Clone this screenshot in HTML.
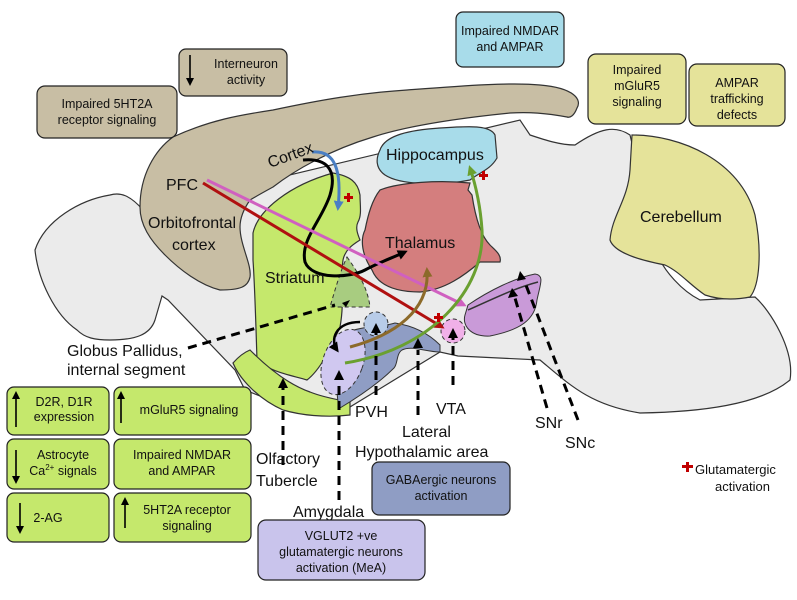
<!DOCTYPE html>
<html><head><meta charset="utf-8"><style>
body{margin:0;background:#fff;width:797px;height:600px;overflow:hidden}
svg{display:block}
text{font-family:"Liberation Sans",Arial,sans-serif;fill:#111}
</style></head><body>
<svg width="797" height="600" viewBox="0 0 797 600" xmlns="http://www.w3.org/2000/svg">
<defs>
<marker id="ak" markerWidth="10" markerHeight="10" refX="7" refY="5" orient="auto" markerUnits="userSpaceOnUse"><path d="M0,0 L10,5 L0,10 Z" fill="#000"/></marker>
<marker id="ab" markerWidth="10" markerHeight="10" refX="7" refY="5" orient="auto" markerUnits="userSpaceOnUse"><path d="M0,0 L10,5 L0,10 Z" fill="#4a7fc4"/></marker>
<marker id="ap" markerWidth="10" markerHeight="10" refX="7" refY="5" orient="auto" markerUnits="userSpaceOnUse"><path d="M0,0 L10,5 L0,10 Z" fill="#d060c0"/></marker>
<marker id="ar" markerWidth="10" markerHeight="10" refX="7" refY="5" orient="auto" markerUnits="userSpaceOnUse"><path d="M0,0 L10,5 L0,10 Z" fill="#b01010"/></marker>
<marker id="ag" markerWidth="10" markerHeight="10" refX="7" refY="5" orient="auto" markerUnits="userSpaceOnUse"><path d="M0,0 L10,5 L0,10 Z" fill="#6aa030"/></marker>
<marker id="ao" markerWidth="10" markerHeight="10" refX="7" refY="5" orient="auto" markerUnits="userSpaceOnUse"><path d="M0,0 L10,5 L0,10 Z" fill="#8c6a2a"/></marker>
</defs>
<!-- brain outline -->
<path d="M143,210 C130,195 120,192 110,195 C80,200 45,220 35,250 C38,280 55,315 77,330 C85,338 95,340 110,340 C135,340 150,335 155,320 L162,296 L168,300 L235,370 L245,390 L300,412 L345,410 L440,352 L458,356 L540,360 C570,385 590,405 640,413 C700,412 760,405 790,380 C795,350 770,310 755,297 L700,300 C680,290 665,270 660,260 L630,135 C615,125 600,128 575,145 C560,145 545,140 530,135 L520,120 Z" fill="#ebebeb" stroke="#333" stroke-width="1.2"/>
<!-- cortex -->
<path d="M140,207 C140,175 155,150 173,137 C210,120 240,115 273,110 C320,100 360,93 407,90 C460,86 510,82 540,85 C575,88 582,100 577,108 C574,116 570,118 567,117 C545,113 530,112 510,113 C460,118 410,125 373,137 C330,150 295,170 273,187 C262,193 255,197 250,200 C243,210 240,218 240,227 C240,245 252,265 250,277 C248,287 240,290 220,290 C200,285 180,270 165,255 C150,240 140,225 140,207 Z" fill="#c8bea4" stroke="#333" stroke-width="1.2"/>
<!-- cerebellum -->
<path d="M632,135 C680,135 740,160 755,215 C762,250 760,285 750,297 C735,300 720,300 705,295 C690,285 680,272 665,265 C650,262 615,255 610,240 C612,215 628,200 630,170 Z" fill="#e5e39a" stroke="#333" stroke-width="1.2"/>
<!-- hippocampus -->
<path d="M380,150 C385,135 410,130 440,128 C470,126 490,125 495,135 L497,158 C490,170 480,172 470,180 C440,186 400,185 385,175 C375,168 376,158 380,150 Z" fill="#a8dcea" stroke="#333" stroke-width="1.2"/>
<!-- thalamus -->
<path d="M380,190 C400,182 440,180 470,183 L468,190 L472,195 C475,215 480,235 490,245 C495,250 502,255 500,262 L480,262 C465,275 445,290 420,292 C395,292 378,285 372,270 C362,255 360,240 365,230 C368,215 372,200 380,190 Z" fill="#d47e7e" stroke="#333" stroke-width="1.2"/>
<!-- striatum -->
<path d="M253,233 C258,210 290,185 333,173 C350,176 358,182 360,195 C360,205 362,215 358,222 C355,228 358,235 360,240 C352,245 345,250 343,260 C340,280 345,300 340,327 C330,350 320,370 307,380 C290,375 270,372 257,360 C256,330 255,290 253,260 Z" fill="#c5e86c" stroke="#333" stroke-width="1.2"/>
<path d="M233,363 C240,355 245,352 250,350 C270,370 290,385 310,392 C325,398 340,400 350,402 L350,415 C325,418 300,415 283,410 C260,400 240,380 233,363 Z" fill="#c5e86c" stroke="#333" stroke-width="1.2"/>
<!-- globus pallidus -->
<path d="M347,257 C360,275 368,290 370,307 L330,307 C335,290 340,272 347,257 Z" fill="#a8cc80" stroke="#333" stroke-width="1" stroke-dasharray="4,3"/>
<!-- hypothalamus -->
<path d="M345,333 C365,325 380,328 395,323 C415,326 430,335 440,345 L440,352 C425,352 412,345 402,350 C396,354 398,364 394,368 C380,382 360,396 340,408 C334,395 338,360 345,333 Z" fill="#8f9dc4" stroke="#333" stroke-width="1"/>
<ellipse cx="343" cy="362" rx="20" ry="34" transform="rotate(20 343 362)" fill="#d0c8f0" stroke="#333" stroke-width="1" stroke-dasharray="4,3"/>
<circle cx="376" cy="324" r="12" fill="#b8cce8" stroke="#333" stroke-width="1" stroke-dasharray="4,3"/>
<circle cx="453" cy="331" r="12" fill="#f0b0e8" stroke="#333" stroke-width="1" stroke-dasharray="4,3"/>
<!-- SN -->
<path d="M468,305 C490,290 515,278 535,274 C545,275 540,285 537,300 C535,320 520,330 490,336 C470,337 462,325 465,315 Z" fill="#c99ad8" stroke="#333" stroke-width="1"/>
<path d="M468,310 C495,298 515,288 538,282" fill="none" stroke="#333" stroke-width="1.5"/>
<!-- connectors -->
<path d="M312,152 C335,150 342,170 338,208" fill="none" stroke="#4a7fc4" stroke-width="3" marker-end="url(#ab)"/>
<path d="M303,160 C325,158 338,168 330,195 C322,220 300,240 305,262 C312,280 350,278 365,270 C380,262 392,258 405,252" fill="none" stroke="#000" stroke-width="3" marker-end="url(#ak)"/>
<line x1="207" y1="180" x2="464" y2="305" stroke="#d060c0" stroke-width="3" marker-end="url(#ap)"/>
<line x1="203" y1="183" x2="442" y2="327" stroke="#b01010" stroke-width="3" marker-end="url(#ar)"/>
<path d="M350,347 C395,335 430,310 427,270" fill="none" stroke="#8c6a2a" stroke-width="3" marker-end="url(#ao)"/>
<path d="M345,363 C430,350 485,290 482,230 C480,200 474,180 470,168" fill="none" stroke="#6aa030" stroke-width="3" marker-end="url(#ag)"/>
<path d="M360,322 C335,322 330,340 337,350" fill="none" stroke="#000" stroke-width="2.5" marker-end="url(#ak)"/>
<!-- red crosses -->
<g fill="#c00000">
<rect x="347" y="193" width="3" height="9"/><rect x="344" y="196" width="9" height="3"/>
<rect x="482" y="171" width="3" height="9"/><rect x="479" y="174" width="9" height="3"/>
<rect x="437" y="313" width="3" height="9"/><rect x="434" y="316" width="9" height="3"/>
<rect x="686" y="462" width="3" height="10"/><rect x="682" y="465" width="11" height="3"/>
</g>
<!-- dashed pointers -->
<g stroke="#000" stroke-width="3" stroke-dasharray="9,6" fill="none">
<line x1="188" y1="348" x2="335" y2="305"/>
<line x1="283" y1="465" x2="283" y2="385"/>
<line x1="339" y1="500" x2="339" y2="380"/>
<line x1="376" y1="395" x2="376" y2="330"/>
<line x1="418" y1="415" x2="418" y2="350"/>
<line x1="453" y1="385" x2="453" y2="338"/>
<line x1="547" y1="408" x2="515" y2="298"/>
<line x1="578" y1="420" x2="524" y2="280"/>
</g>
<g fill="#000">
<path d="M278,388 L283,378 L288,388 Z"/><path d="M334,380 L339,370 L344,380 Z"/>
<path d="M371,333 L376,323 L381,333 Z"/><path d="M413,348 L418,338 L423,348 Z"/>
<path d="M448,338 L453,328 L458,338 Z"/><path d="M508,298 L512,288 L518,296 Z"/>
<path d="M517,281 L520,271 L526,279 Z"/><path d="M342,303 L350,300 L346,307 Z"/>
</g>
<!-- labels -->
<g font-size="16">
<text x="166" y="190">PFC</text>
<text x="270" y="168" transform="rotate(-20 270 168)">Cortex</text>
<text x="148" y="228">Orbitofrontal</text><text x="172" y="250">cortex</text>
<text x="265" y="283">Striatum</text>
<text x="385" y="248">Thalamus</text>
<text x="386" y="160">Hippocampus</text>
<text x="640" y="222">Cerebellum</text>
<text x="67" y="356">Globus Pallidus,</text><text x="67" y="375">internal segment</text>
<text x="355" y="417">PVH</text>
<text x="436" y="414">VTA</text>
<text x="402" y="437">Lateral</text><text x="355" y="457">Hypothalamic area</text>
<text x="535" y="428">SNr</text><text x="565" y="448">SNc</text>
<text x="256" y="464">Olfactory</text><text x="256" y="486">Tubercle</text>
<text x="293" y="517">Amygdala</text>
</g>
<text x="695" y="474" font-size="13">Glutamatergic</text><text x="715" y="491" font-size="13">activation</text>
<!-- boxes -->
<g stroke="#222" stroke-width="1.2">
<rect x="179" y="49" width="108" height="47" rx="7" fill="#c8bea4"/>
<rect x="37" y="86" width="140" height="52" rx="8" fill="#c8bea4"/>
<rect x="456" y="12" width="108" height="55" rx="7" fill="#a8dcea"/>
<rect x="588" y="54" width="98" height="70" rx="8" fill="#e5e39a"/>
<rect x="689" y="64" width="96" height="62" rx="8" fill="#e5e39a"/>
<rect x="7" y="387" width="102" height="48" rx="7" fill="#c5e86c"/>
<rect x="114" y="387" width="137" height="48" rx="7" fill="#c5e86c"/>
<rect x="7" y="439" width="102" height="50" rx="7" fill="#c5e86c"/>
<rect x="114" y="439" width="137" height="50" rx="7" fill="#c5e86c"/>
<rect x="7" y="493" width="102" height="49" rx="7" fill="#c5e86c"/>
<rect x="114" y="493" width="137" height="49" rx="7" fill="#c5e86c"/>
<rect x="372" y="462" width="138" height="53" rx="7" fill="#8f9dc4"/>
<rect x="258" y="520" width="167" height="60" rx="8" fill="#c9c4ec"/>
</g>
<g font-size="12.5" text-anchor="middle">
<text x="246" y="68">Interneuron</text><text x="246" y="84">activity</text>
<text x="107" y="108">Impaired 5HT2A</text><text x="107" y="124">receptor signaling</text>
<text x="510" y="35">Impaired NMDAR</text><text x="510" y="51">and AMPAR</text>
<text x="637" y="74">Impaired</text><text x="637" y="90">mGluR5</text><text x="637" y="106">signaling</text>
<text x="737" y="87">AMPAR</text><text x="737" y="103">trafficking</text><text x="737" y="119">defects</text>
<text x="64" y="406">D2R, D1R</text><text x="64" y="421">expression</text>
<text x="189" y="414">mGluR5 signaling</text>
<text x="63" y="459">Astrocyte</text><text x="63" y="475">Ca<tspan font-size="8" dy="-5">2+</tspan><tspan dy="5"> signals</tspan></text>
<text x="182" y="459">Impaired NMDAR</text><text x="182" y="475">and AMPAR</text>
<text x="48" y="522">2-AG</text>
<text x="187" y="514">5HT2A receptor</text><text x="187" y="530">signaling</text>
<text x="441" y="484">GABAergic neurons</text><text x="441" y="500">activation</text>
<text x="341" y="540">VGLUT2 +ve</text><text x="341" y="556">glutamatergic neurons</text><text x="341" y="572">activation (MeA)</text>
</g>
<!-- box arrows -->
<g stroke="#000" stroke-width="1.6">
<line x1="190" y1="55" x2="190" y2="80"/><line x1="16" y1="397" x2="16" y2="427"/>
<line x1="121" y1="397" x2="121" y2="423"/><line x1="16" y1="450" x2="16" y2="478"/>
<line x1="20" y1="503" x2="20" y2="528"/><line x1="125" y1="503" x2="125" y2="528"/>
</g>
<g fill="#000">
<path d="M186,78 L190,86 L194,78 Z"/><path d="M12,399 L16,391 L20,399 Z"/>
<path d="M117,399 L121,391 L125,399 Z"/><path d="M12,476 L16,484 L20,476 Z"/>
<path d="M16,526 L20,534 L24,526 Z"/><path d="M121,505 L125,497 L129,505 Z"/>
</g>
</svg>
</body></html>
